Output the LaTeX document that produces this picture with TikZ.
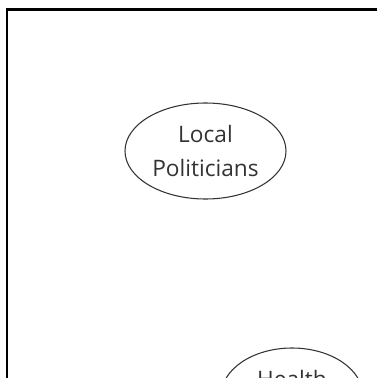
\documentclass[tikz,border=0pt]{standalone}
\usepackage{fontspec}
\setmainfont{Open Sans}
\usetikzlibrary{shapes.geometric}

\tikzset{
  actor/.style={ellipse, draw=black!80, line width=0.8pt, text=black!80,
    inner sep=0pt, minimum height=72pt, align=center,
    font=\fontsize{17}{25.5}\selectfont},
}

\begin{document}
\begin{tikzpicture}[x=0.75pt, y=-0.75pt]
\useasboundingbox (0,0) rectangle (377,378);
\clip (0,0) rectangle (377,378);

% Frame
\draw[line width=1.6pt] (7,378) |- (377,9.5);

% Stakeholders
\node[actor, minimum width=120.75pt] (politicians) at (205.5,151) {Local\\Politicians};
\node[actor, minimum width=106.5pt] (health) at (292,396) {Health\\{}};

\end{tikzpicture}
\end{document}
